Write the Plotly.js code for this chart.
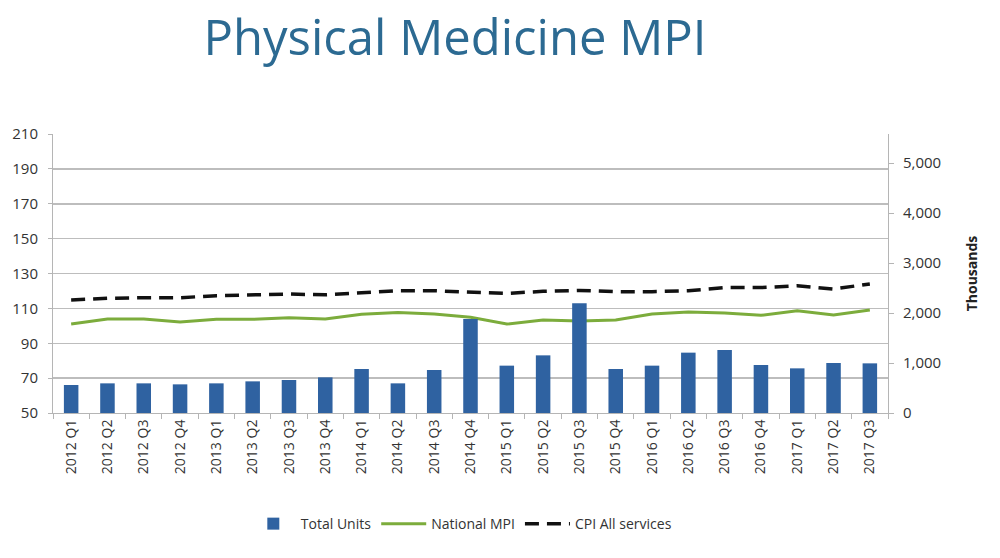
<!DOCTYPE html>
<html>
<head>
<meta charset="utf-8">
<script src="https://cdn.plot.ly/plotly-3.0.1.min.js"></script>
<style>html,body{margin:0;padding:0;background:#fff;}#chart{width:1000px;height:558px;}</style>
</head>
<body>
<div id="chart"></div>
<script>
const quarters = ["2012 Q1","2012 Q2","2012 Q3","2012 Q4","2013 Q1","2013 Q2","2013 Q3","2013 Q4",
  "2014 Q1","2014 Q2","2014 Q3","2014 Q4","2015 Q1","2015 Q2","2015 Q3","2015 Q4",
  "2016 Q1","2016 Q2","2016 Q3","2016 Q4","2017 Q1","2017 Q2","2017 Q3"];
// Total units, thousands (right axis)
const totalUnits = [560,593,593,573,593,633,660,713,880,593,860,1880,947,1153,2193,880,947,1207,1260,960,893,1000,993];
// National MPI (left axis)
const nationalMPI = [101.0,103.9,103.9,102.2,103.7,103.7,104.6,103.9,106.6,107.7,106.8,104.9,101.0,103.3,102.7,103.3,106.8,107.9,107.3,106.0,108.7,106.2,109.1];
// CPI All services (left axis)
const cpiAll = [114.8,115.8,116.1,116.1,117.3,117.7,118.2,117.8,118.8,120.1,120.1,119.2,118.6,119.8,120.3,119.6,119.6,120.1,121.9,121.9,123.0,121.1,124.0];
const leftTicks = [50,70,90,110,130,150,170,190,210];
const rightTicks = [0,1000,2000,3000,4000,5000];

const font = "Open Sans, Noto Sans, sans-serif";
const traces = [
  {type:"bar", name:"Total Units", x:quarters, y:totalUnits, yaxis:"y2",
   marker:{color:"#2f62a1"}},
  {type:"scatter", mode:"lines", name:"National MPI", x:quarters, y:nationalMPI,
   line:{color:"#7cac3c", width:3}},
  {type:"scatter", mode:"lines", name:"CPI All services", x:quarters, y:cpiAll,
   line:{color:"#111111", width:3.5, dash:"14px,8px"}}
];
const layout = {
  width:1000, height:558,
  margin:{l:53, r:112, t:134, b:145},
  paper_bgcolor:"#ffffff", plot_bgcolor:"#ffffff",
  font:{family:font, color:"#333333", size:14},
  title:{text:"Physical Medicine MPI", x:0.455, xanchor:"center", y:0.932, yanchor:"middle",
    font:{family:font, size:49, color:"#2c6a92"}},
  bargap:0.6,
  showlegend:true,
  legend:{orientation:"h", x:0.489, xanchor:"center", y:-0.398, yanchor:"middle",
    font:{size:14, color:"#333"}, traceorder:"normal", itemwidth:45},
  xaxis:{type:"category", tickangle:-90, showgrid:false, showline:true, linecolor:"#b5b5b5",
    ticks:"outside", tickson:"boundaries", ticklen:5, tickcolor:"#b5b5b5",
    tickfont:{size:14, color:"#333"}, mirror:false, range:[-0.5,22.5]},
  yaxis:{range:[50,210], tickvals:leftTicks, showgrid:true, gridcolor:"#bdbdbd", gridwidth:1.5,
    showline:true, linecolor:"#b5b5b5", ticks:"outside", ticklen:4, tickcolor:"#b5b5b5",
    ticklabelstandoff:7,
    tickfont:{size:15, color:"#333"}, zeroline:false},
  yaxis2:{overlaying:"y", side:"right", range:[0,5580], tickvals:rightTicks, tickformat:",d",
    showgrid:false, showline:true, linecolor:"#b5b5b5", ticks:"outside", ticklen:5, tickcolor:"#b5b5b5",
    ticklabelstandoff:6,
    tickfont:{size:15, color:"#333"}, zeroline:false,
    title:{text:"<b>Thousands</b>", font:{size:14, color:"#222"}, standoff:26}}
};
Plotly.newPlot("chart", traces, layout, {displayModeBar:false, staticPlot:true});
</script>
</body>
</html>
